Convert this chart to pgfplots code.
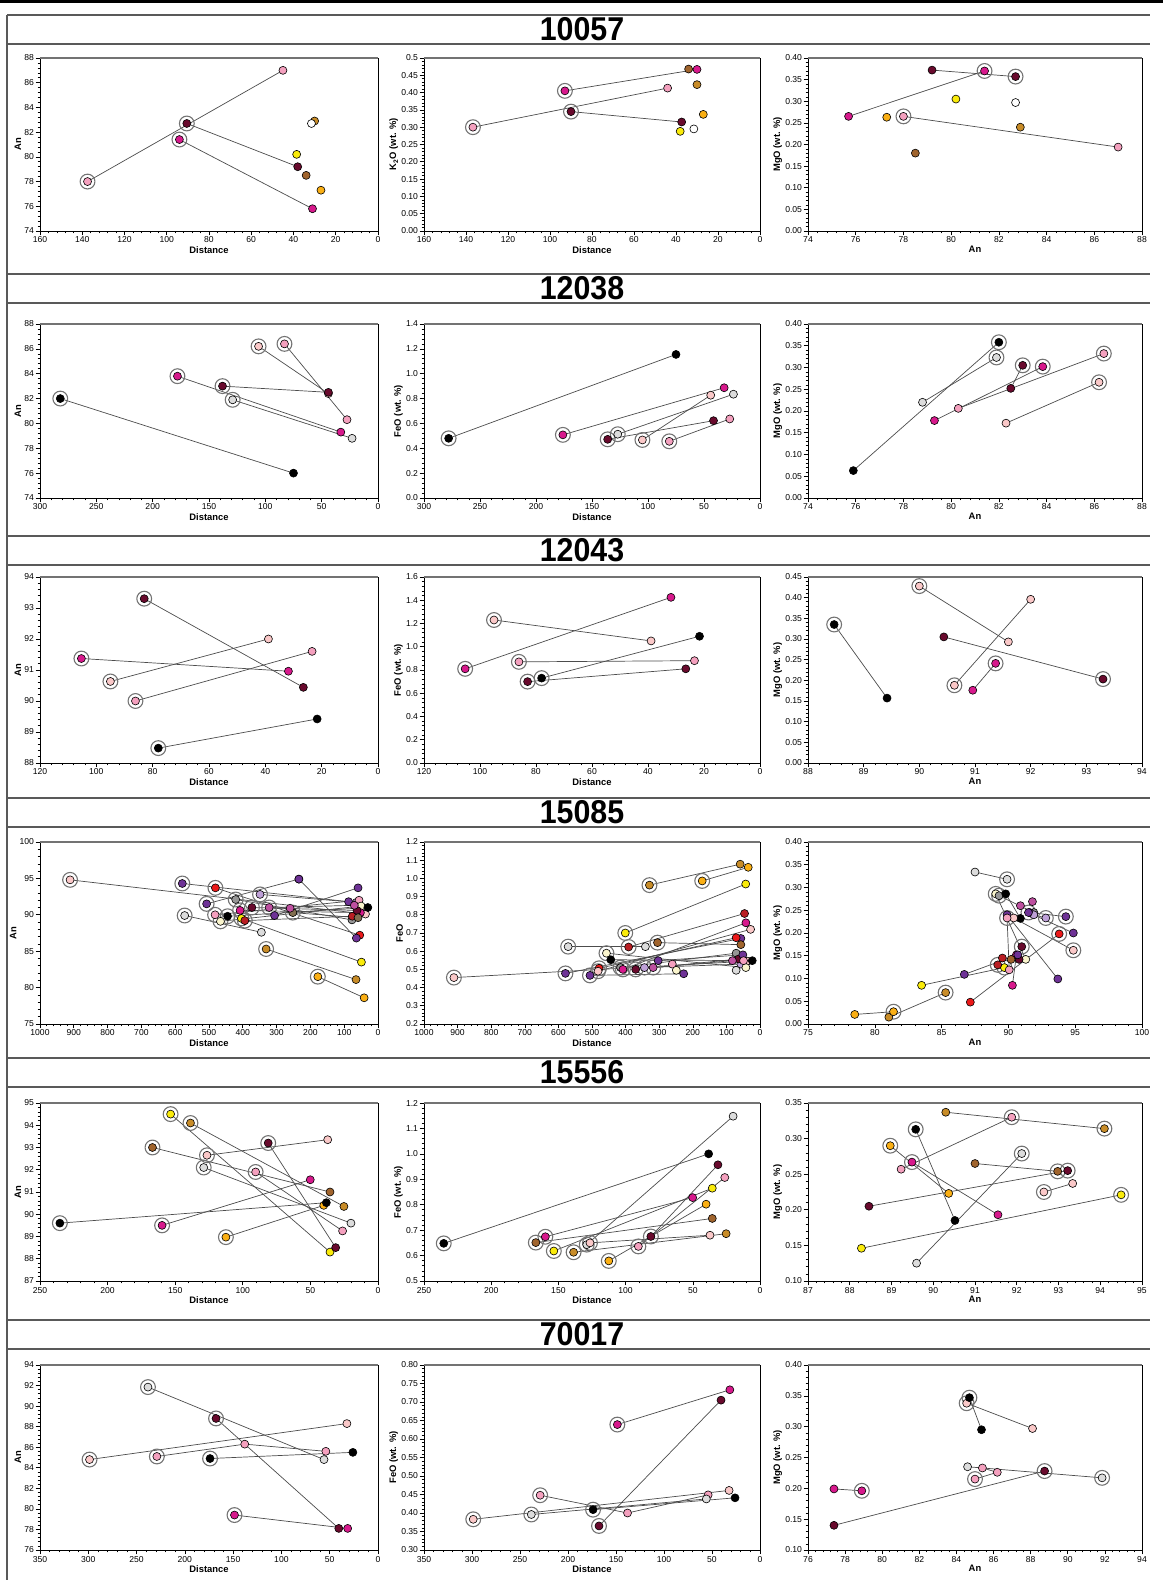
\documentclass[border=0pt]{standalone}
\usepackage{fontspec}
\setmainfont{Liberation Sans}
\newfontfamily\titlefont[FakeStretch=0.92]{Liberation Sans}
\usepackage{pgfplots}
\pgfplotsset{compat=1.18}

\newcommand\tickfont{\fontsize{4.3}{5}\selectfont}
\newcommand\labfont{\fontsize{4.7}{5.5}\selectfont\bfseries}

\definecolor{cPink}{RGB}{244,160,190}
\definecolor{cLPink}{RGB}{250,200,200}
\definecolor{cMag}{RGB}{215,25,140}
\definecolor{cMar}{RGB}{105,10,45}
\definecolor{cGold}{RGB}{200,140,40}
\definecolor{cOra}{RGB}{250,175,20}
\definecolor{cYel}{RGB}{250,235,10}
\definecolor{cBrn}{RGB}{160,100,45}
\definecolor{cLGray}{RGB}{220,220,220}
\definecolor{cGray}{RGB}{150,150,150}
\definecolor{cPur}{RGB}{110,50,150}
\definecolor{cLav}{RGB}{190,160,215}
\definecolor{cOrc}{RGB}{190,80,160}
\definecolor{cRed}{RGB}{235,25,25}
\definecolor{cDRed}{RGB}{185,30,35}
\definecolor{cCrm}{RGB}{250,245,205}
\definecolor{cOli}{RGB}{130,110,80}

\pgfplotsset{
  pan/.style={
    scale only axis, anchor=south west, clip=false,
    axis line style={black, line width=0.35pt},
    tick align=outside, tick pos=left,
    major tick length=2.2pt, minor tick length=1.2pt,
    tick style={black, line width=0.3pt},
    minor x tick num=4, minor y tick num=4,
    ticklabel style={font=\tickfont, inner sep=0.6pt},
    xlabel style={font=\labfont, inner sep=0.8pt},
    ylabel style={font=\labfont, inner sep=0.8pt},
    scaled ticks=false,
    /pgf/number format/1000 sep={},
    /pgf/number format/assume math mode=true,
    after end axis/.append code={\draw[black!55, line width=1.1pt] (rel axis cs:0,1) -- (rel axis cs:1,1);},
  },
  dist/.style={pan, x dir=reverse, xlabel={Distance}},
  mgo/.style={pan, xlabel={An}, ylabel={MgO (wt. \%)},
    yticklabel style={/pgf/number format/.cd, fixed, fixed zerofill, precision=2}},
  dec1/.style={yticklabel style={/pgf/number format/.cd, fixed, fixed zerofill, precision=1}},
  dec2/.style={yticklabel style={/pgf/number format/.cd, fixed, fixed zerofill, precision=2}},
  pr/.style={black!70, line width=0.35pt, mark=*, mark size=2pt,
    mark options={fill=#1, draw=black, line width=0.3pt}},
  pt/.style={only marks, mark=*, mark size=2pt,
    mark options={fill=#1, draw=black, line width=0.3pt}},
  rg/.style={only marks, mark=o, mark size=3.7pt,
    mark options={draw=black!55, line width=0.55pt}},
}

\begin{document}
\begin{tikzpicture}
\path[use as bounding box] (0,0) rectangle (581.5pt,790pt);
\draw[line width=1.5pt] (0,789pt) -- (581.5pt,789pt);
\draw[black!65, line width=0.7pt] (3.5pt,782.5pt) -- (3.5pt,0);
\foreach \yt/\lab in {782.5/10057, 653/12038, 522/12043, 391/15085, 261/15556, 130/70017}{
  \draw[black!65, line width=0.7pt] (3.5pt,\yt pt) -- (575pt,\yt pt);
  \draw[black!65, line width=0.7pt] (3.5pt,\yt pt-14.5pt) -- (575pt,\yt pt-14.5pt);
  \node[font=\titlefont\fontsize{16.5}{18}\selectfont\bfseries] at (291pt,\yt pt-7.25pt) {\lab};
}

% ===================== 10057 =====================
\begin{axis}[dist, at={(20pt,674.5pt)}, width=169pt, height=86.5pt,
  xmin=0, xmax=160, xtick={0,20,...,160}, ymin=74, ymax=88, ytick={74,76,...,88}, ylabel={An}]
\addplot[rg] coordinates {(137.5,78.0) (90.5,82.7) (94,81.4)};
\addplot[pr=cPink] coordinates {(137.5,78.0) (45,87.0)};
\addplot[pr=cMar] coordinates {(90.5,82.7) (38,79.2)};
\addplot[pr=cMag] coordinates {(94,81.4) (31,75.8)};
\addplot[pt=cGold] coordinates {(30,82.9)};
\addplot[pt=white] coordinates {(31.5,82.7)};
\addplot[pt=cYel] coordinates {(38.5,80.2)};
\addplot[pt=cBrn] coordinates {(34,78.5)};
\addplot[pt=cOra] coordinates {(27,77.3)};
\end{axis}

\begin{axis}[dist, at={(212pt,674.5pt)}, width=168pt, height=86.5pt,
  xmin=0, xmax=160, xtick={0,20,...,160}, ymin=0, ymax=0.5, ytick={0,0.05,...,0.5},
  yticklabels={0.00,0.05,0.10,0.15,0.20,0.25,0.30,0.35,0.40,0.45,0.5}, ylabel={K\textsubscript{2}O (wt. \%)}]
\addplot[rg] coordinates {(136.7,0.30) (92.9,0.405) (90,0.345)};
\addplot[pr=cPink] coordinates {(136.7,0.30) (44,0.413)};
\addplot[pr=cMag] coordinates {(92.9,0.405) (30,0.467)};
\addplot[pr=cMar] coordinates {(90,0.345) (37.3,0.315)};
\addplot[pt=cBrn] coordinates {(34,0.468)};
\addplot[pt=cGold] coordinates {(30,0.423)};
\addplot[pt=cOra] coordinates {(27,0.337)};
\addplot[pt=cYel] coordinates {(38,0.288)};
\addplot[pt=white] coordinates {(31.5,0.295)};
\end{axis}

\begin{axis}[mgo, at={(404pt,674.5pt)}, width=167pt, height=86.5pt,
  xmin=74, xmax=88, xtick={74,76,...,88}, ymin=0, ymax=0.40, ytick={0,0.05,...,0.40}]
\addplot[rg] coordinates {(81.4,0.37) (82.7,0.357) (78.0,0.265)};
\addplot[pr=cMag] coordinates {(81.4,0.37) (75.7,0.265)};
\addplot[pr=cMar] coordinates {(82.7,0.357) (79.2,0.372)};
\addplot[pr=cPink] coordinates {(78.0,0.265) (87.0,0.194)};
\addplot[pt=cOra] coordinates {(77.3,0.263)};
\addplot[pt=cYel] coordinates {(80.2,0.305)};
\addplot[pt=white] coordinates {(82.7,0.297)};
\addplot[pt=cGold] coordinates {(82.9,0.24)};
\addplot[pt=cBrn] coordinates {(78.5,0.18)};
\end{axis}

% ===================== 12038 =====================
\begin{axis}[dist, at={(20pt,541pt)}, width=169pt, height=87pt,
  xmin=0, xmax=300, xtick={0,50,...,300}, ymin=74, ymax=88, ytick={74,76,...,88}, ylabel={An}]
\addplot[rg] coordinates {(282,82.0) (106,86.2) (83,86.4) (138,83.0) (178,83.8) (129,81.9)};
\addplot[pr=black] coordinates {(282,82.0) (75,76.0)};
\addplot[pr=cLPink] coordinates {(106,86.2) (44,82.4)};
\addplot[pr=cPink] coordinates {(83,86.4) (27.5,80.3)};
\addplot[pr=cMar] coordinates {(138,83.0) (44,82.5)};
\addplot[pr=cMag] coordinates {(178,83.8) (33,79.3)};
\addplot[pr=cLGray] coordinates {(129,81.9) (23,78.8)};
\end{axis}

\begin{axis}[dist, dec1, at={(212pt,541pt)}, width=168pt, height=87pt,
  xmin=0, xmax=300, xtick={0,50,...,300}, ymin=0, ymax=1.4, ytick={0,0.2,...,1.4}, ylabel={FeO (wt. \%)}]
\addplot[rg] coordinates {(278,0.48) (176,0.508) (136,0.472) (127,0.513) (105,0.467) (81,0.456)};
\addplot[pr=black] coordinates {(278,0.48) (75,1.155)};
\addplot[pr=cMag] coordinates {(176,0.508) (32,0.887)};
\addplot[pr=cMar] coordinates {(136,0.472) (41.5,0.622)};
\addplot[pr=cLGray] coordinates {(127,0.513) (23.7,0.835)};
\addplot[pr=cLPink] coordinates {(105,0.467) (44,0.827)};
\addplot[pr=cPink] coordinates {(81,0.456) (27,0.636)};
\end{axis}

\begin{axis}[mgo, at={(404pt,541pt)}, width=167pt, height=87pt,
  xmin=74, xmax=88, xtick={74,76,...,88}, ymin=0, ymax=0.40, ytick={0,0.05,...,0.40}]
\addplot[rg] coordinates {(82.0,0.358) (81.9,0.323) (83.84,0.302) (83.0,0.305) (86.4,0.332) (86.2,0.266)};
\addplot[pr=black] coordinates {(82.0,0.358) (75.9,0.063)};
\addplot[pr=cLGray] coordinates {(81.9,0.323) (78.8,0.22)};
\addplot[pr=cMag] coordinates {(83.84,0.302) (79.3,0.178)};
\addplot[pr=cPink] coordinates {(86.4,0.332) (80.3,0.206)};
\addplot[pr=cMar] coordinates {(83.0,0.305) (82.5,0.252)};
\addplot[pr=cLPink] coordinates {(86.2,0.266) (82.3,0.172)};
\end{axis}

% ===================== 12043 =====================
\begin{axis}[dist, at={(20pt,408.5pt)}, width=169pt, height=93pt,
  xmin=0, xmax=120, xtick={0,20,...,120}, ymin=88, ymax=94, ytick={88,89,...,94}, ylabel={An}]
\addplot[rg] coordinates {(83,93.3) (105.3,91.37) (95,90.63) (86.1,90.0) (78,88.48)};
\addplot[pr=cMar] coordinates {(83,93.3) (26.5,90.44)};
\addplot[pr=cMag] coordinates {(105.3,91.37) (31.8,90.96)};
\addplot[pr=cLPink] coordinates {(95,90.63) (38.9,92.0)};
\addplot[pr=cPink] coordinates {(86.1,90.0) (23.4,91.6)};
\addplot[pr=black] coordinates {(78,88.48) (21.6,89.42)};
\end{axis}

\begin{axis}[dist, dec1, at={(212pt,408.5pt)}, width=168pt, height=93pt,
  xmin=0, xmax=120, xtick={0,20,...,120}, ymin=0, ymax=1.6, ytick={0,0.2,...,1.6}, ylabel={FeO (wt. \%)}]
\addplot[rg] coordinates {(105.3,0.81) (95,1.23) (86.1,0.87) (83,0.70) (78,0.73)};
\addplot[pr=cMag] coordinates {(105.3,0.81) (31.8,1.425)};
\addplot[pr=cLPink] coordinates {(95,1.23) (38.9,1.05)};
\addplot[pr=cPink] coordinates {(86.1,0.87) (23.4,0.88)};
\addplot[pr=cMar] coordinates {(83,0.70) (26.5,0.81)};
\addplot[pr=black] coordinates {(78,0.73) (21.6,1.09)};
\end{axis}

\begin{axis}[mgo, at={(404pt,408.5pt)}, width=167pt, height=93pt,
  xmin=88, xmax=94, xtick={88,89,...,94}, ymin=0, ymax=0.45, ytick={0,0.05,...,0.45}]
\addplot[rg] coordinates {(88.47,0.335) (90.0,0.428) (90.63,0.188) (93.3,0.203) (91.37,0.241)};
\addplot[pr=black] coordinates {(88.47,0.335) (89.42,0.157)};
\addplot[pr=cLPink] coordinates {(90.0,0.428) (91.6,0.293)};
\addplot[pr=cLPink] coordinates {(90.63,0.188) (92.0,0.396)};
\addplot[pr=cMar] coordinates {(93.3,0.203) (90.44,0.305)};
\addplot[pr=cMag] coordinates {(91.37,0.241) (90.96,0.176)};
\end{axis}

% ===================== 15085 =====================
\begin{axis}[dist, at={(20pt,278pt)}, width=169pt, height=91pt,
  xmin=0, xmax=1000, xtick={0,100,...,1000}, ymin=75, ymax=100, ytick={75,80,...,100}, ylabel={An}]
\addplot[rg] coordinates {(911,94.8) (579,94.3) (481,93.7) (507,91.5) (421,92.1) (349,92.8) (572,89.9)
  (482,90.0) (466,89.1) (445,89.8) (408,90.6) (404,89.5) (394,89.2) (373,91.0) (322,91.0) (252,90.3)
  (331,85.3) (178,81.5)};
\addplot[pr=cLPink] coordinates {(911,94.8) (37,90.1)};
\addplot[pr=cPur] coordinates {(579,94.3) (87,91.8)};
\addplot[pr=cRed] coordinates {(481,93.7) (54,87.2)};
\addplot[pr=cPur] coordinates {(507,91.5) (234,94.9)};
\addplot[pr=cPur] coordinates {(234,94.9) (64,86.8)};
\addplot[pr=cGray] coordinates {(421,92.1) (77,89.3)};
\addplot[pr=cLav] coordinates {(349,92.8) (64,91.7)};
\addplot[pr=cLGray] coordinates {(572,89.9) (345,87.6)};
\addplot[pr=cPur] coordinates {(306,89.9) (59,93.7)};
\addplot[pr=cPink] coordinates {(482,90.0) (56,92.0)};
\addplot[pr=cCrm] coordinates {(466,89.1) (50,91.2)};
\addplot[pr=cMag] coordinates {(408,90.6) (52,90.3)};
\addplot[pr=cYel] coordinates {(404,89.5) (49,83.5)};
\addplot[pr=cDRed] coordinates {(394,89.2) (76,89.8)};
\addplot[pr=cMar] coordinates {(373,91.0) (62,90.6)};
\addplot[pr=cOrc] coordinates {(322,91.0) (70,91.3)};
\addplot[pr=cOli] coordinates {(252,90.3) (59,89.6)};
\addplot[pt=cOrc] coordinates {(260,90.9)};
\addplot[pr=black] coordinates {(445,89.8) (30,91.0)};
\addplot[pr=cGold] coordinates {(331,85.3) (65,81.1)};
\addplot[pr=cOra] coordinates {(178,81.5) (41,78.6)};
\end{axis}

\begin{axis}[dist, dec1, at={(212pt,278pt)}, width=168pt, height=91pt,
  xmin=0, xmax=1000, xtick={0,100,...,1000}, ymin=0.2, ymax=1.2, ytick={0.2,0.3,...,1.2}, ylabel={FeO}]
\addplot[rg] coordinates {(911,0.455) (579,0.478) (479,0.506) (506,0.467) (415,0.51) (344,0.51) (571,0.625)
  (482,0.49) (457,0.589) (408,0.50) (401,0.70) (391,0.623) (370,0.50) (318,0.51) (305,0.647)
  (329,0.963) (172,0.986)};
\addplot[pr=cLPink] coordinates {(911,0.455) (37,0.545)};
\addplot[pr=cPur] coordinates {(579,0.478) (57,0.67)};
\addplot[pr=cRed] coordinates {(479,0.506) (71,0.674)};
\addplot[pr=cPur] coordinates {(506,0.467) (227,0.476)};
\addplot[pr=cGray] coordinates {(415,0.51) (71,0.589)};
\addplot[pr=cLav] coordinates {(344,0.51) (57,0.529)};
\addplot[pr=cLGray] coordinates {(571,0.625) (341,0.625)};
\addplot[pr=cLPink] coordinates {(482,0.49) (28,0.72)};
\addplot[pr=cCrm] coordinates {(457,0.589) (42,0.51)};
\addplot[pr=black] coordinates {(444,0.553) (23,0.548)};
\addplot[pr=cMag] coordinates {(408,0.50) (42,0.756)};
\addplot[pr=cYel] coordinates {(401,0.70) (42.5,0.969)};
\addplot[pr=cDRed] coordinates {(391,0.623) (46,0.807)};
\addplot[pr=cMar] coordinates {(370,0.50) (64,0.557)};
\addplot[pr=cOrc] coordinates {(318,0.51) (82,0.548)};
\addplot[pr=cPur] coordinates {(303,0.548) (51,0.58)};
\addplot[pr=cBrn] coordinates {(305,0.647) (57,0.636)};
\addplot[pr=cGold] coordinates {(329,0.963) (59,1.078)};
\addplot[pr=cOra] coordinates {(172,0.986) (35,1.061)};
\addplot[pt=cPink] coordinates {(261,0.529) (49,0.548)};
\addplot[pt=cCrm] coordinates {(249,0.495)};
\addplot[pt=cLGray] coordinates {(71,0.495)};
\end{axis}

\begin{axis}[mgo, at={(404pt,278pt)}, width=167pt, height=91pt,
  xmin=75, xmax=100, xtick={75,80,...,100}, ymin=0, ymax=0.40, ytick={0,0.05,...,0.40}]
\addplot[rg] coordinates {(89.9,0.318) (89.05,0.286) (89.3,0.282) (94.3,0.236) (92.8,0.233) (91.5,0.245)
  (93.8,0.198) (94.86,0.162) (89.7,0.124) (85.3,0.069) (81.4,0.027) (89.2,0.13) (91.0,0.17) (89.9,0.233)};
\addplot[pr=cLGray] coordinates {(89.9,0.318) (87.5,0.334)};
\addplot[pr=cCrm] coordinates {(89.05,0.286) (91.3,0.142)};
\addplot[pr=cGray] coordinates {(89.3,0.282) (91.9,0.245)};
\addplot[pr=black] coordinates {(89.8,0.286) (90.9,0.232)};
\addplot[pr=cPur] coordinates {(94.3,0.236) (91.6,0.245)};
\addplot[pr=cLav] coordinates {(92.8,0.233) (91.9,0.24)};
\addplot[pr=cPur] coordinates {(91.5,0.245) (94.86,0.2)};
\addplot[pr=cPur] coordinates {(89.9,0.24) (93.7,0.099)};
\addplot[pr=cRed] coordinates {(93.8,0.198) (87.15,0.048)};
\addplot[pr=cLPink] coordinates {(94.86,0.162) (90.4,0.233)};
\addplot[pr=cYel] coordinates {(89.7,0.124) (83.5,0.085)};
\addplot[pr=cGold] coordinates {(85.3,0.069) (81.05,0.015)};
\addplot[pr=cOra] coordinates {(81.4,0.027) (78.5,0.021)};
\addplot[pr=cDRed] coordinates {(89.2,0.13) (89.55,0.145)};
\addplot[pr=cMar] coordinates {(91.0,0.17) (90.8,0.142)};
\addplot[pr=cMag] coordinates {(90.3,0.085) (90.6,0.152)};
\addplot[pr=cPur] coordinates {(86.7,0.109) (90.7,0.152)};
\addplot[pr=cPink] coordinates {(89.9,0.233) (90.06,0.119)};
\addplot[pt=cOrc] coordinates {(91.8,0.269) (90.9,0.26)};
\addplot[pt=cBrn] coordinates {(90.2,0.142)};
\end{axis}

% ===================== 15556 =====================
\begin{axis}[dist, at={(20pt,149.5pt)}, width=169pt, height=89pt,
  xmin=0, xmax=250, xtick={0,50,...,250}, ymin=87, ymax=95, ytick={87,88,...,95}, ylabel={An}]
\addplot[rg] coordinates {(153.4,94.5) (138.7,94.1) (166.8,93.0) (81.2,93.2) (126.5,92.65) (128.9,92.1)
  (90.5,91.9) (159.7,89.5) (235.3,89.6) (112.5,88.97)};
\addplot[pr=cYel] coordinates {(153.4,94.5) (35.5,88.3)};
\addplot[pr=cGold] coordinates {(138.7,94.1) (25.2,90.35)};
\addplot[pr=cBrn] coordinates {(166.8,93.0) (35.5,91.0)};
\addplot[pr=cMar] coordinates {(81.2,93.2) (31.3,88.5)};
\addplot[pr=cLPink] coordinates {(126.5,92.65) (37.2,93.35)};
\addplot[pr=cLGray] coordinates {(128.9,92.1) (20,89.6)};
\addplot[pr=cPink] coordinates {(90.5,91.9) (26.2,89.25)};
\addplot[pr=cMag] coordinates {(159.7,89.5) (50.1,91.55)};
\addplot[pr=cOra] coordinates {(112.5,88.97) (40.1,90.4)};
\addplot[pr=black] coordinates {(235.3,89.6) (38.2,90.52)};
\end{axis}

\begin{axis}[dist, dec1, at={(212pt,149.5pt)}, width=168pt, height=89pt,
  xmin=0, xmax=250, xtick={0,50,...,250}, ymin=0.5, ymax=1.2, ytick={0.5,0.6,...,1.2}, ylabel={FeO (wt. \%)}]
\addplot[rg] coordinates {(235.3,0.648) (159.7,0.674) (166.8,0.651) (153.4,0.618) (138.7,0.613)
  (128.9,0.643) (126.5,0.65) (90.5,0.636) (81.2,0.675) (112.5,0.579)};
\addplot[pr=black] coordinates {(235.3,0.648) (38.2,1.0)};
\addplot[pr=cMag] coordinates {(159.7,0.674) (50.1,0.828)};
\addplot[pr=cBrn] coordinates {(166.8,0.651) (35.5,0.746)};
\addplot[pr=cYel] coordinates {(153.4,0.618) (35.5,0.865)};
\addplot[pr=cGold] coordinates {(138.7,0.613) (25.2,0.686)};
\addplot[pr=cLGray] coordinates {(128.9,0.643) (20,1.148)};
\addplot[pr=cLPink] coordinates {(126.5,0.65) (37.2,0.68)};
\addplot[pr=cPink] coordinates {(90.5,0.636) (26.2,0.907)};
\addplot[pr=cMar] coordinates {(81.2,0.675) (31.3,0.957)};
\addplot[pr=cOra] coordinates {(112.5,0.579) (40.1,0.802)};
\end{axis}

\begin{axis}[mgo, at={(404pt,149.5pt)}, width=167pt, height=89pt,
  xmin=87, xmax=95, xtick={87,88,...,95}, ymin=0.10, ymax=0.35, ytick={0.10,0.15,...,0.35}]
\addplot[rg] coordinates {(94.1,0.314) (91.88,0.330) (89.58,0.313) (88.97,0.29) (89.49,0.267)
  (92.12,0.279) (92.98,0.254) (93.22,0.255) (92.65,0.225) (94.5,0.221)};
\addplot[pr=cGold] coordinates {(94.1,0.314) (90.3,0.337)};
\addplot[pr=cPink] coordinates {(91.88,0.330) (89.23,0.257)};
\addplot[pr=black] coordinates {(89.58,0.313) (90.52,0.185)};
\addplot[pr=cOra] coordinates {(88.97,0.29) (90.37,0.223)};
\addplot[pr=cMag] coordinates {(89.49,0.267) (91.55,0.193)};
\addplot[pr=cLGray] coordinates {(92.12,0.279) (89.6,0.125)};
\addplot[pr=cBrn] coordinates {(92.98,0.254) (91.0,0.265)};
\addplot[pr=cMar] coordinates {(93.22,0.255) (88.46,0.205)};
\addplot[pr=cLPink] coordinates {(92.65,0.225) (93.34,0.237)};
\addplot[pr=cYel] coordinates {(94.5,0.221) (88.28,0.146)};
\end{axis}

% ===================== 70017 =====================
\begin{axis}[dist, at={(20pt,15pt)}, width=169pt, height=92.5pt,
  xmin=0, xmax=350, xtick={0,50,...,350}, ymin=76, ymax=94, ytick={76,78,...,94}, ylabel={An}]
\addplot[rg] coordinates {(238.2,91.85) (167.7,88.8) (148.6,79.4) (298.7,84.8) (229,85.1) (173.9,84.9)};
\addplot[pr=cLGray] coordinates {(238.2,91.85) (55.9,84.8)};
\addplot[pr=cMar] coordinates {(167.7,88.8) (40.6,78.1)};
\addplot[pr=cMag] coordinates {(148.6,79.4) (31.4,78.1)};
\addplot[pr=cLPink] coordinates {(298.7,84.8) (32.2,88.3)};
\addplot[pr=cPink] coordinates {(229,85.1) (138,86.3) (54,85.6)};
\addplot[pr=black] coordinates {(173.9,84.9) (26,85.5)};
\end{axis}

\begin{axis}[dist, dec2, at={(212pt,15pt)}, width=168pt, height=92.5pt,
  xmin=0, xmax=350, xtick={0,50,...,350}, ymin=0.30, ymax=0.80, ytick={0.30,0.35,...,0.80}, ylabel={FeO (wt. \%)}]
\addplot[rg] coordinates {(148.6,0.639) (167.7,0.365) (229,0.448) (298.7,0.383) (238.2,0.396) (173.9,0.409)};
\addplot[pr=cMag] coordinates {(148.6,0.639) (31.4,0.733)};
\addplot[pr=cMar] coordinates {(167.7,0.365) (40.6,0.705)};
\addplot[pr=cPink] coordinates {(229,0.448) (138,0.40) (54,0.449)};
\addplot[pr=cLPink] coordinates {(298.7,0.383) (32.2,0.461)};
\addplot[pr=cLGray] coordinates {(238.2,0.396) (55.9,0.438)};
\addplot[pr=black] coordinates {(173.9,0.409) (26,0.441)};
\end{axis}

\begin{axis}[mgo, at={(404pt,15pt)}, width=167pt, height=92.5pt,
  xmin=76, xmax=94, xtick={76,78,...,94}, ymin=0.10, ymax=0.40, ytick={0.10,0.15,...,0.40}]
\addplot[rg] coordinates {(84.7,0.347) (84.55,0.338) (91.85,0.217) (85.0,0.215) (88.75,0.228) (78.9,0.196)};
\addplot[pr=cLPink] coordinates {(84.55,0.338) (88.1,0.297)};
\addplot[pr=black] coordinates {(84.7,0.347) (85.35,0.295)};
\addplot[pr=cLGray] coordinates {(91.85,0.217) (84.6,0.235)};
\addplot[pr=cPink] coordinates {(85.0,0.215) (86.2,0.226) (85.4,0.233)};
\addplot[pr=cMar] coordinates {(88.75,0.228) (77.4,0.14)};
\addplot[pr=cMag] coordinates {(78.9,0.196) (77.4,0.199)};
\end{axis}
\end{tikzpicture}
\end{document}
